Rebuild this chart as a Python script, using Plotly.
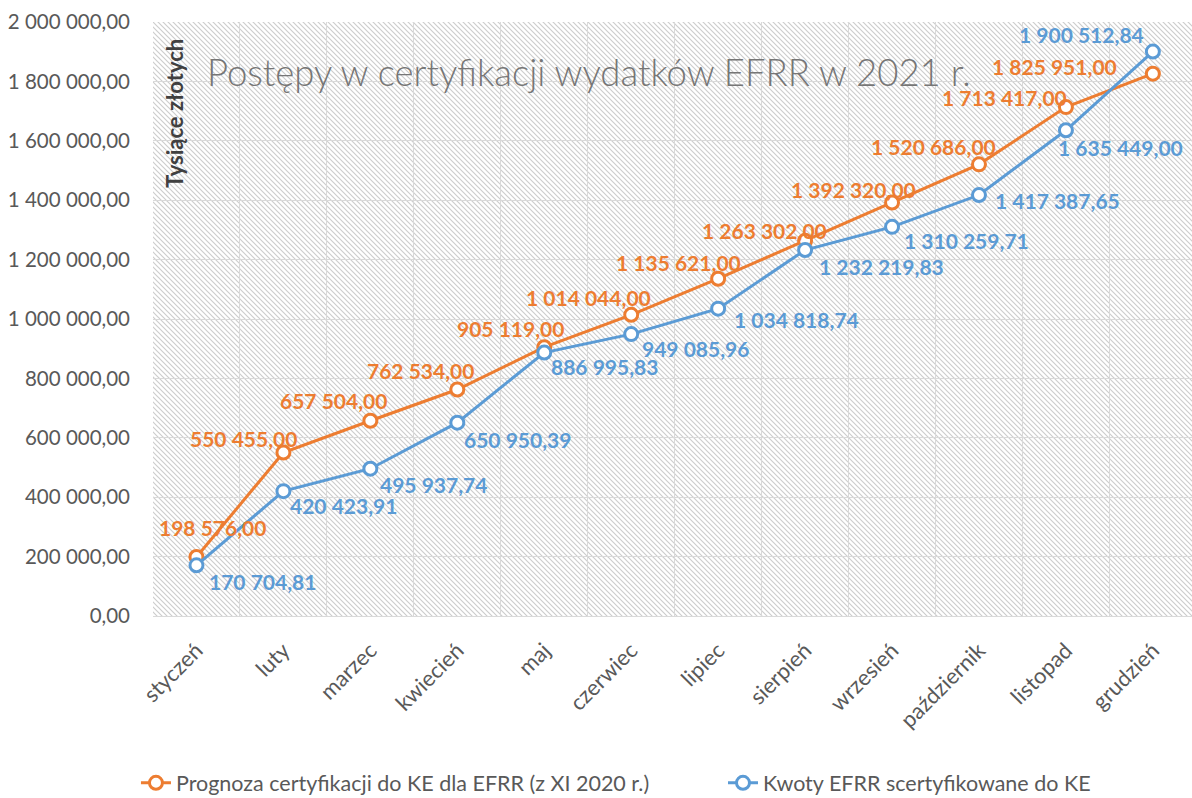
import base64
import plotly.graph_objects as go

months = ["styczeń", "luty", "marzec", "kwiecień", "maj", "czerwiec", "lipiec",
          "sierpień", "wrzesień", "październik", "listopad", "grudzień"]
forecast = [198576.00, 550455.00, 657504.00, 762534.00, 905119.00, 1014044.00,
            1135621.00, 1263302.00, 1392320.00, 1520686.00, 1713417.00, 1825951.00]
certified = [170704.81, 420423.91, 495937.74, 650950.39, 886995.83, 949085.96,
             1034818.74, 1232219.83, 1310259.71, 1417387.65, 1635449.00, 1900512.84]

name_forecast = "Prognoza certyfikacji do KE dla EFRR (z XI 2020 r.)"
name_certified = "Kwoty EFRR scertyfikowane do KE"
title_text = "Postępy w certyfikacji wydatków EFRR w 2021 r."
yaxis_label = "Tysiące złotych"

# label offsets in pixels (styling only)
off_forecast = [(16, 30), (-40, 14), (-37, 20), (-37, 19), (-34, 19), (-43, 17),
                (-40, 16), (-41, 10), (-39, 13), (-45, 18), (-61, 10), (-98, 7)]
off_certified = [(66, -16), (60, -14), (63, -16), (60, -17), (60, -14), (64, -14),
                 (78, -11), (76, -16), (74, -14), (79, -5), (55, -17), (-71, 17)]

ORANGE = "#ED7D31"
BLUE = "#5B9BD5"
FONT = "Lato"


def fmt(v):
    return f"{v:,.2f}".replace(",", " ").replace(".", ",")


fig = go.Figure()
for name, vals, col, lg in [(name_forecast, forecast, ORANGE, "legend"),
                            (name_certified, certified, BLUE, "legend2")]:
    fig.add_trace(go.Scatter(
        x=months, y=vals, name=name, mode="lines+markers", legend=lg,
        line=dict(color=col, width=3),
        marker=dict(symbol="circle", size=13, color="white", line=dict(color=col, width=3)),
    ))

annotations = []
for vals, offs, col in [(forecast, off_forecast, ORANGE), (certified, off_certified, BLUE)]:
    for m, v, (dx, dy) in zip(months, vals, offs):
        annotations.append(dict(x=m, y=v, xref="x", yref="y", text=fmt(v), showarrow=False,
                                xshift=dx, yshift=dy,
                                font=dict(family=FONT, size=21, color=col, weight="bold")))

annotations.append(dict(x=0.05, y=0.916, xref="paper", yref="paper", text=title_text,
                        showarrow=False, xanchor="left", yanchor="middle",
                        font=dict(family=FONT, size=36.5, color="#767676", weight=300)))
annotations.append(dict(x=0.021, y=0.847, xref="paper", yref="paper", text=yaxis_label,
                        showarrow=False, textangle=-90, xanchor="center", yanchor="middle",
                        font=dict(family=FONT, size=22, color="#404040", weight="bold")))

# hatch background as an inline SVG image
W, H = 1039, 594
svg = (f'<svg xmlns="http://www.w3.org/2000/svg" width="{W}" height="{H}" '
       f'viewBox="0 0 {W} {H}" preserveAspectRatio="none">'
       '<defs><pattern id="p" width="5" height="5" patternUnits="userSpaceOnUse">'
       '<path d="M-1,-1 L6,6 M-1,4 L1,6 M4,-1 L6,1" stroke="#cdcdcd" stroke-width="1.2"/>'
       '</pattern></defs>'
       f'<rect width="{W}" height="{H}" fill="white"/>'
       f'<rect width="{W}" height="{H}" fill="url(#p)"/></svg>')
src = "data:image/svg+xml;base64," + base64.b64encode(svg.encode()).decode()

legend_common = dict(orientation="h", yanchor="middle", xanchor="left", yref="container",
                     font=dict(family=FONT, size=21.5, color="#595959"),
                     bgcolor="rgba(0,0,0,0)")

fig.update_layout(
    width=1192, height=798,
    margin=dict(l=153, r=0, t=22, b=182),
    paper_bgcolor="white", plot_bgcolor="rgba(0,0,0,0)",
    separators=", ",
    font=dict(family=FONT, color="#595959"),
    images=[dict(source=src, xref="paper", yref="paper", x=0, y=1, sizex=1, sizey=1,
                 sizing="stretch", layer="below", xanchor="left", yanchor="top")],
    annotations=annotations,
    showlegend=True,
    legend=dict(x=-0.0164, y=0.019, **legend_common),
    legend2=dict(x=0.5486, y=0.019, **legend_common),
    xaxis=dict(type="category", range=[-0.5, 11.45], tickson="boundaries",
               showgrid=True, gridcolor="#d9d9d9", gridwidth=1,
               showline=True, linecolor="#d9d9d9", linewidth=1, automargin=False,
               ticks="", tickangle=-45, ticklabelstandoff=12,
               tickfont=dict(family=FONT, size=22, color="#595959")),
    yaxis=dict(range=[0, 2000000], dtick=200000, tickformat=",.2f",
               showgrid=True, gridcolor="#d9d9d9", gridwidth=1, zeroline=False,
               ticks="", ticklabelstandoff=22, automargin=False,
               tickfont=dict(family=FONT, size=20.5, color="#595959")),
)

fig.write_html("out.html", config={"displayModeBar": False},
               post_script="document.body.style.margin='0';document.body.style.overflow='hidden';")
